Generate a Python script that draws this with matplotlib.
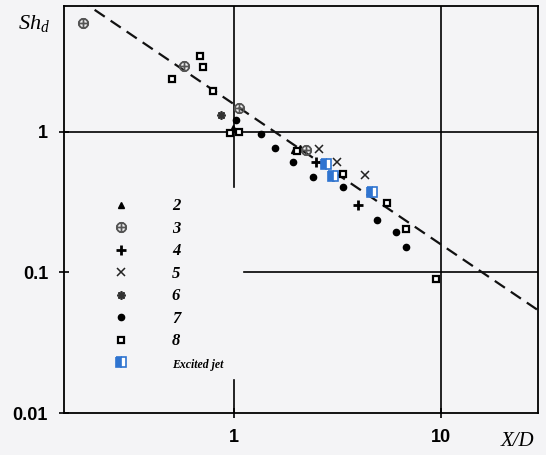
import numpy as np
import matplotlib
matplotlib.use('Agg')
import matplotlib.pyplot as plt

# ---- data ----
s2_x = [0.99, 1.96, 2.08]
s2_y = [1.07, 0.744, 0.77]
s3_x = [0.188, 0.575, 1.057, 2.22]
s3_y = [5.97, 2.95, 1.48, 0.744]
s4_x = [2.48, 3.02, 3.99]
s4_y = [0.61, 0.486, 0.302]
s5_x = [2.59, 3.13, 4.31]
s5_y = [0.757, 0.61, 0.494]
s6_x = [0.866]
s6_y = [1.32]
s7_x = [1.03, 1.35, 1.59, 1.94, 2.42, 3.38, 4.92, 6.08, 6.79]
s7_y = [1.22, 0.968, 0.77, 0.61, 0.478, 0.406, 0.236, 0.194, 0.152]
s8_x = [0.504, 0.687, 0.71, 0.793, 0.957, 1.057, 2.01, 3.38, 5.50, 6.79, 9.46]
s8_y = [2.38, 3.47, 2.90, 1.96, 0.984, 1.0, 0.732, 0.503, 0.312, 0.204, 0.090]
ex_x = [2.80, 3.02, 4.66]
ex_y = [0.592, 0.486, 0.374]
fit_coef = 1.58
fit_exp = -1.0
labels = ['2', '3', '4', '5', '6', '7', '8', 'Excited jet']
xticks = [1, 10]
xticklabels = ['1', '10']
yticks = [0.01, 0.1, 1]
yticklabels = ['0.01', '0.1', '1']

plt.rcParams['mathtext.fontset'] = 'custom'
plt.rcParams['mathtext.it'] = 'Liberation Serif:italic'
plt.rcParams['mathtext.rm'] = 'Liberation Serif'

bg = '#f4f4f6'
fig = plt.figure(figsize=(5.46, 4.55), dpi=100, facecolor=bg)
ax = fig.add_axes([64/546, 42/455, 474/546, 407/455])
ax.set_facecolor(bg)
ax.set_xscale('log')
ax.set_yscale('log')
ax.set_xlim(0.152, 29.3)
ax.set_ylim(0.01, 7.88)

# reference grid lines (partly hidden behind legend area)
lw = 1.2
ax.axvline(1, ymin=0.555, ymax=1, color='black', lw=lw, zorder=1)
ax.axvline(1, ymin=0, ymax=0.081, color='black', lw=lw, zorder=1)
ax.axvline(10, color='black', lw=lw, zorder=1)
ax.axhline(1, color='black', lw=lw, zorder=1)
ax.axhline(0.1, xmin=0.379, xmax=1, color='black', lw=lw, zorder=1)

# correlation line
fx = np.logspace(np.log10(0.15), np.log10(30), 50)
ax.plot(fx, fit_coef * fx ** fit_exp, color='#111111', lw=1.6,
        dashes=(5.5, 3.2), zorder=2)

h2, = ax.plot(s2_x, s2_y, ls='none', marker='^', ms=5, color='black', zorder=3)
h3, = ax.plot(s3_x, s3_y, ls='none', marker='$\\oplus$', ms=7, color='#555555',
              zorder=3)
h4, = ax.plot(s4_x, s4_y, ls='none', marker='+', ms=6.5, color='black',
              mew=2.0, zorder=3)
h5, = ax.plot(s5_x, s5_y, ls='none', marker='x', ms=6, color='#222222',
              mew=1.1, zorder=3)
h6, = ax.plot(s6_x, s6_y, ls='none', marker=(8, 2, 0), ms=6, color='#333333',
              mew=1.3, zorder=3)
h7, = ax.plot(s7_x, s7_y, ls='none', marker='o', ms=4.5, color='black', zorder=3)
h8, = ax.plot(s8_x, s8_y, ls='none', marker='s', ms=4.3, mfc='white',
              mec='black', mew=1.6, zorder=3)
hx, = ax.plot(ex_x, ex_y, ls='none', marker='s', ms=6.5, fillstyle='left',
              mfc='#2f74d0', mfcalt='#ffffff', mec='#2f74d0', mew=1.2, zorder=4)

leg = ax.legend([h2, h3, h4, h5, h6, h7, h8, hx], labels,
                loc='upper left', bbox_to_anchor=(0.057, 0.56),
                frameon=False, handlelength=2.0, handletextpad=2.05,
                labelspacing=0.39, borderpad=0.3,
                prop={'family': 'Liberation Serif', 'style': 'italic',
                      'weight': 'bold', 'size': 12})
leg.get_texts()[-1].set_fontsize(8.5)

ax.set_xticks(xticks)
ax.set_xticklabels(xticklabels)
ax.set_yticks(yticks)
ax.set_yticklabels(yticklabels)
ax.minorticks_off()
ax.tick_params(direction='inout', length=7, width=1.2, color='black')
ax.tick_params(axis='y', pad=8)
ax.tick_params(axis='x', pad=8)
for t in ax.get_xticklabels() + ax.get_yticklabels():
    t.set_fontfamily('Liberation Sans')
    t.set_fontweight('bold')
    t.set_fontsize(13)
for s in ax.spines.values():
    s.set_linewidth(1.3)

fig.text(0.062, 0.948, r'$Sh_d$', fontsize=16, ha='center', va='center')
fig.text(0.947, 0.030, 'X/D', fontsize=15, family='Liberation Serif',
         style='italic', ha='center', va='center')

fig.savefig('out.png', dpi=100, facecolor=bg)
